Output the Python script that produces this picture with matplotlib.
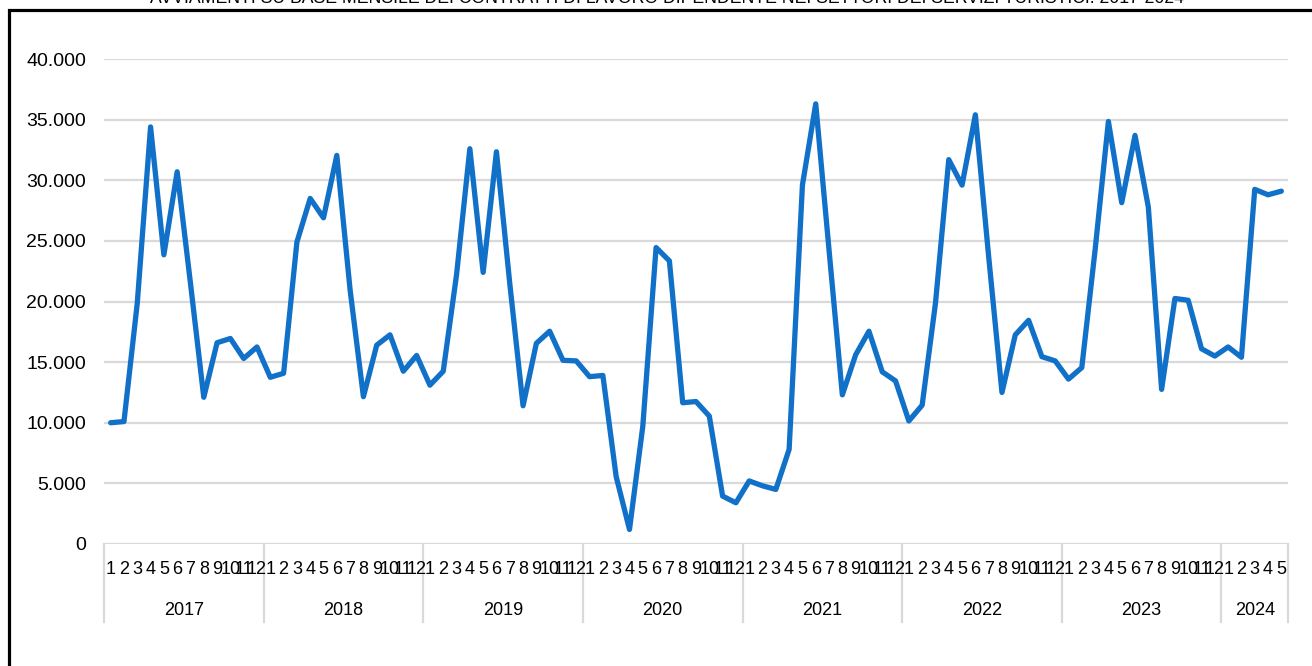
import matplotlib
matplotlib.use("Agg")
import matplotlib.pyplot as plt
from matplotlib.patches import Rectangle

plt.rcParams['font.family'] = ['Liberation Sans', 'DejaVu Sans']

years = ["2017", "2018", "2019", "2020", "2021", "2022", "2023", "2024"]
months_per_year = [12, 12, 12, 12, 12, 12, 12, 5]

avviamenti = [
    # 2017
    10000, 10100, 19850, 34400, 23850, 30700, 21500, 12100, 16600, 16950, 15300, 16250,
    # 2018
    13750, 14080, 24900, 28500, 26900, 32050, 20950, 12150, 16400, 17250, 14250, 15550,
    # 2019
    13100, 14250, 22200, 32600, 22400, 32350, 21500, 11400, 16550, 17550, 15150, 15100,
    # 2020
    13800, 13900, 5550, 1200, 9700, 24450, 23350, 11650, 11750, 10550, 3950, 3400,
    # 2021
    5200, 4800, 4500, 7800, 29600, 36300, 24250, 12300, 15600, 17550, 14200, 13450,
    # 2022
    10150, 11450, 19850, 31700, 29600, 35400, 23700, 12500, 17250, 18450, 15450, 15100,
    # 2023
    13600, 14550, 24250, 34850, 28150, 33700, 27800, 12750, 20250, 20100, 16100, 15500,
    # 2024
    16250, 15400, 29250, 28800, 29100,
]

month_labels = []
for n in months_per_year:
    month_labels += [str(m) for m in range(1, n + 1)]

W, H = 1312, 666
fig = plt.figure(figsize=(W / 100, H / 100), dpi=100)
ax = fig.add_axes([104 / W, 1 - 544 / H, 1184 / W, 485 / H])

x = list(range(len(avviamenti)))
ax.plot(x, avviamenti, color='#1170c8', lw=3.8, solid_joinstyle='round', solid_capstyle='round', zorder=3)

ax.set_xlim(-0.5, len(avviamenti) - 0.5)
ax.set_ylim(0, 40000)
ax.set_yticks(range(0, 40001, 5000))
ax.set_yticklabels([f"{v:,}".replace(",", ".") for v in range(0, 40001, 5000)])
ax.tick_params(axis='y', length=0, pad=13, labelsize=14)
ax.grid(axis='y', color='#d9d9d9', lw=1.6)
ax.set_axisbelow(True)
for s in ax.spines.values():
    s.set_visible(False)

# month labels and year groups under the axis
ax.set_xticks([])
tr = ax.get_xaxis_transform()
for i, lab in enumerate(month_labels):
    ax.text(i, -0.0536, lab, transform=tr, ha='center', va='center', fontsize=13)

start = 0
edges = [-0.5]
for yr, n in zip(years, months_per_year):
    ax.text(start + (n - 1) / 2, -0.137, yr, transform=tr, ha='center', va='center', fontsize=13)
    start += n
    edges.append(start - 0.5)
for e in edges:
    ax.plot([e, e], [0, -0.161], transform=tr, color='#d9d9d9', lw=1.6, clip_on=False)

fig.text(0.508, 1 - 3 / H, "AVVIAMENTI SU BASE MENSILE DEI CONTRATTI DI LAVORO DIPENDENTE NEI SETTORI DEI SERVIZI TURISTICI. 2017-2024",
         ha='center', va='baseline', fontsize=12.7)

fig.patches.append(Rectangle((9 / W, -0.1), 1.2, 1.1 - 9.5 / H, transform=fig.transFigure,
                             fill=False, edgecolor='black', lw=2.3))

fig.savefig("out.png", dpi=100)
